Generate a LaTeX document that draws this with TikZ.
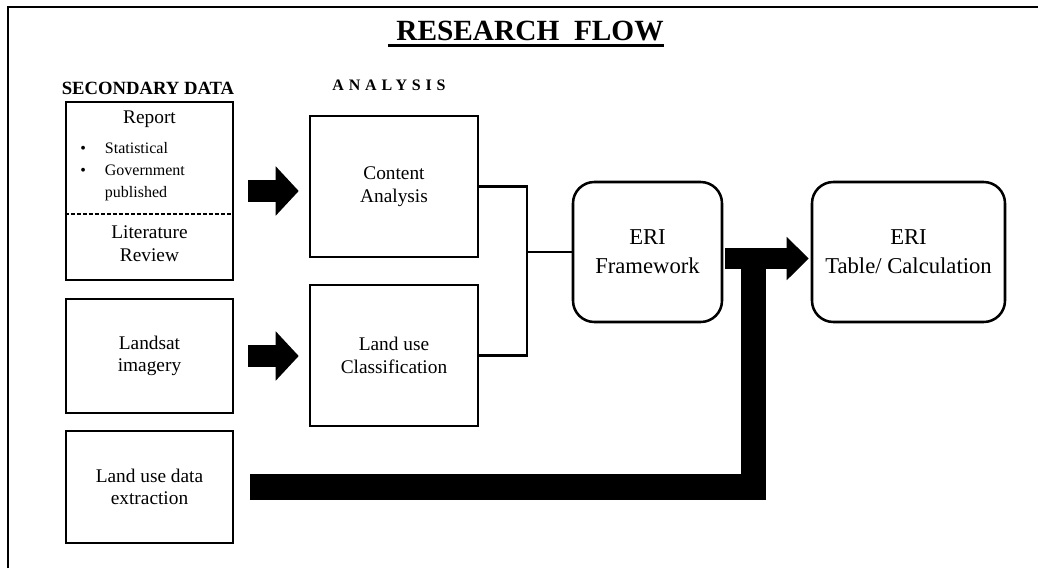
\documentclass[tikz,border=0pt]{standalone}
\usepackage{fontspec}
\setmainfont{Liberation Serif}
\usetikzlibrary{positioning, arrows.meta, calc}

\begin{document}
\begin{tikzpicture}[
    x=0.75pt, y=-0.75pt,
    box/.style={draw, line width=1.9pt, align=center, inner sep=0pt, font=\fontsize{14.5}{17}\selectfont},
    roundbox/.style={box, rounded corners=16pt, font=\fontsize{17}{21.75}\selectfont},
    txt/.style={align=center, inner sep=0pt, font=\fontsize{14.5}{17}\selectfont},
    heading/.style={inner sep=0pt, font=\bfseries\fontsize{14}{16}\selectfont},
    link/.style={line width=1.9pt},
    fatarrow/.style={line width=17pt, -{Triangle[length=17.25pt, width=36pt]}},
    bigarrow/.style={line width=15.75pt, -{Triangle[length=16.5pt, width=31.5pt]}},
    fatline/.style={line width=19pt, miter limit=10}
]
\useasboundingbox (0,0) rectangle (1038,568);

% ================= Frame and headings =================

\draw[line width=1.3pt] (8,568) -- (8,7) -- (1038,7);

\node[inner sep=0pt, font=\bfseries\fontsize{22}{24}\selectfont] (title) at (530,31) {RESEARCH\ \ FLOW};
\draw[line width=2.2pt] ([xshift=-6pt, yshift=-3.5pt]title.base west) -- ([yshift=-3.5pt]title.base east);

\node[heading] (sec_head) at (148,88) {SECONDARY DATA};
\node[heading, font=\bfseries\fontsize{12}{14}\selectfont\addfontfeature{LetterSpace=30}] (ana_head) at (389,85) {ANALYSIS};

% ================= Nodes =================

% Secondary data: report + literature
\node[box, minimum width=125.25pt, minimum height=133.5pt] (secbox) at (149.5,191) {};
\node[txt] (report) at (149.5,119) {Report};
\node[txt, anchor=west, align=left, font=\fontsize{12}{16.5}\selectfont] (bullets) at (80,172) {%
    \makebox[18.5pt][l]{\textbullet}Statistical\\
    \makebox[18.5pt][l]{\textbullet}Government\\
    \makebox[18.5pt][l]{}published};
\draw[line width=1pt, dash pattern=on 3pt off 1.5pt] (secbox.west |- 0,214) -- (secbox.east |- 0,214);
\node[txt] (litrev) at (149.5,244) {Literature\\ Review};

% Other sources
\node[box, minimum width=125.25pt, minimum height=85.5pt] (landsat) at (149.5,356) {Landsat\\ imagery};
\node[box, minimum width=125.25pt, minimum height=84pt] (extract) at (149.5,487) {Land use data\\ extraction};

% Analysis
\node[box, minimum width=126pt, minimum height=105.75pt] (content) at (394,186.5) {Content\\ Analysis};
\node[box, minimum width=126pt, minimum height=105.75pt] (landuse) at (394,355.5) {Land use\\ Classification};

% ERI
\node[roundbox, minimum width=111.75pt, minimum height=105pt] (erifw) at (647.5,252) {ERI\\ Framework};
\node[roundbox, minimum width=144.75pt, minimum height=105pt] (eritab) at (908.5,252) {ERI\\ Table/ Calculation};

% ================= Edges =================

% Sources to analysis
\draw[fatarrow, shorten <=10.5pt, shorten >=7.5pt] (secbox.east) -- (secbox.east -| content.west);
\draw[fatarrow, shorten <=10.5pt, shorten >=7.5pt] (landsat.east) -- (landsat.east -| landuse.west);

% Analysis merge into framework
\coordinate (merge) at (527,252);
\draw[link] (content.east) -| (merge) |- (landuse.east);
\draw[link] (merge) -- (erifw.west);

% Extraction joins the framework output
\coordinate (joint) at (753.5,262);
\draw[fatline, shorten <=12pt] (extract.east) -| (joint);
\draw[bigarrow, shorten <=1.5pt, shorten >=1.5pt] ([yshift=-4.9pt]erifw.east) -- ([yshift=-4.9pt]eritab.west);

\end{tikzpicture}
\end{document}
